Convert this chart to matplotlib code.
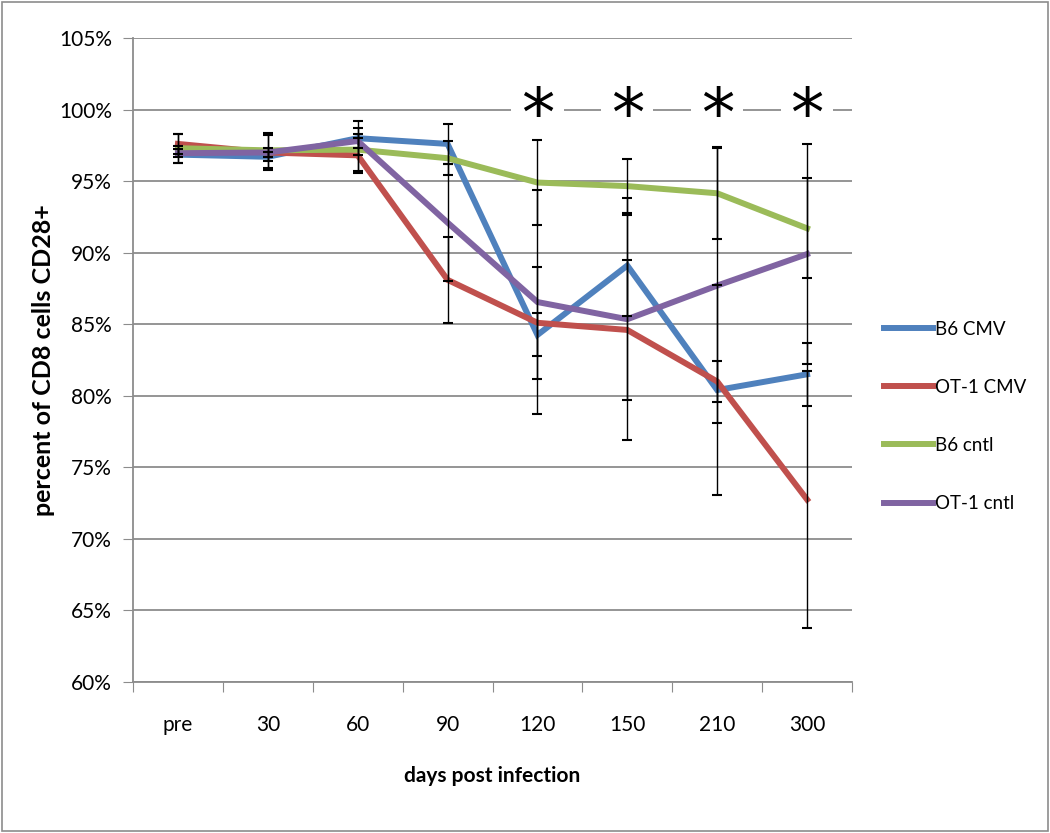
import matplotlib
matplotlib.use("Agg")
import matplotlib.pyplot as plt
from matplotlib.patches import Rectangle
from matplotlib.ticker import FuncFormatter, FixedLocator

categories = ['pre', '30', '60', '90', '120', '150', '210', '300']
series_names = ['B6 CMV', 'OT-1 CMV', 'B6 cntl', 'OT-1 cntl']
b6_cmv = [96.85, 96.7, 98.0, 97.6, 84.25, 89.1, 80.4, 81.5]
ot1_cmv = [97.6, 97.0, 96.8, 88.1, 85.1, 84.6, 81.0, 72.75]
b6_cntl = [97.3, 97.15, 97.2, 96.6, 94.9, 94.65, 94.15, 91.7]
ot1_cntl = [96.95, 97.0, 97.8, 92.1, 86.55, 85.35, 87.7, 89.9]
b6_cmv_err = [0.6, 0.3, 1.2, 1.4, 1.5, 3.5, 7.35, 2.2]
ot1_cmv_err = [0.7, 1.25, 1.2, 3.0, 3.9, 4.9, 1.4, 9.0]
b6_cntl_err = [1.0, 1.2, 1.5, 1.2, 3.0, 1.9, 3.2, 3.5]
ot1_cntl_err = [0.3, 0.3, 0.5, 4.1, 7.8, 8.45, 9.6, 7.7]
significant = ['120', '150', '210', '300']
star_level = 99.45

colors = ['#4F81BD', '#C0504D', '#9BBB59', '#8064A2']
values = [b6_cmv, ot1_cmv, b6_cntl, ot1_cntl]
errors = [b6_cmv_err, ot1_cmv_err, b6_cntl_err, ot1_cntl_err]

plt.rcParams['font.family'] = ['Lato', 'DejaVu Sans']
FS = 15

fig = plt.figure(figsize=(10.5, 8.33), dpi=100)
ax = fig.add_axes([133/1050, 1-682/833, (852-133)/1050, (682-38)/833])

xs = [i + 0.5 for i in range(len(categories))]
handles = []
for name, vals, col in zip(series_names, values, colors):
    h, = ax.plot(xs, vals, color=col, lw=4.3, solid_joinstyle='miter', zorder=3, label=name)
    handles.append(h)
for vals, err in zip(values, errors):
    ax.errorbar(xs, vals, yerr=err, fmt='none', ecolor='black', elinewidth=1,
                capsize=3.6, capthick=1.5, zorder=5)

ax.set_xlim(0, len(categories))
ax.set_ylim(60, 105)
ax.set_yticks(range(60, 106, 5))
ax.yaxis.set_major_formatter(FuncFormatter(lambda v, p: f'{int(v)}%'))
ax.grid(axis='y', color='#8c8c8c', lw=1.3, zorder=0)
ax.set_axisbelow(True)

ax.xaxis.set_major_locator(FixedLocator(range(len(categories) + 1)))
ax.xaxis.set_minor_locator(FixedLocator(xs))
ax.set_xticklabels([''] * (len(categories) + 1))
ax.set_xticklabels(categories, minor=True)
ax.tick_params(axis='x', which='major', length=7, color='#8c8c8c', direction='out')
ax.tick_params(axis='x', which='minor', length=0, pad=24, labelsize=FS)
ax.tick_params(axis='y', length=7, color='#8c8c8c', pad=8, labelsize=FS)

for s in ['top', 'right']:
    ax.spines[s].set_visible(False)
for s in ['left', 'bottom']:
    ax.spines[s].set_color('#8c8c8c')
    ax.spines[s].set_linewidth(1.3)

# star annotations with white gap in the 100% gridline
for c in significant:
    i = categories.index(c)
    ax.hlines(100, i + 0.5 - 0.29, i + 0.5 + 0.29, color='white', lw=3, zorder=1)
    ax.text(i + 0.5, star_level, '*', ha='center', va='center', fontsize=48,
            family='DejaVu Sans', color='black', zorder=6)

ax.set_xlabel('days post infection', fontsize=FS, fontweight='bold', labelpad=22)
ax.set_ylabel('percent of CD8 cells CD28+', fontsize=18, fontweight='bold')
ax.yaxis.set_label_coords(-0.108, 0.5)

fig.legend(handles=handles, loc='upper left', bbox_to_anchor=(867/1050, 1-304/833),
           frameon=False, fontsize=13.5, handlelength=2.6, handletextpad=0.12,
           labelspacing=2.19)

fig.patches.append(Rectangle((0.002, 0.002), 0.996, 0.996, transform=fig.transFigure,
                             fill=False, edgecolor='#8c8c8c', lw=1.2))

fig.savefig('out.png', dpi=100)
